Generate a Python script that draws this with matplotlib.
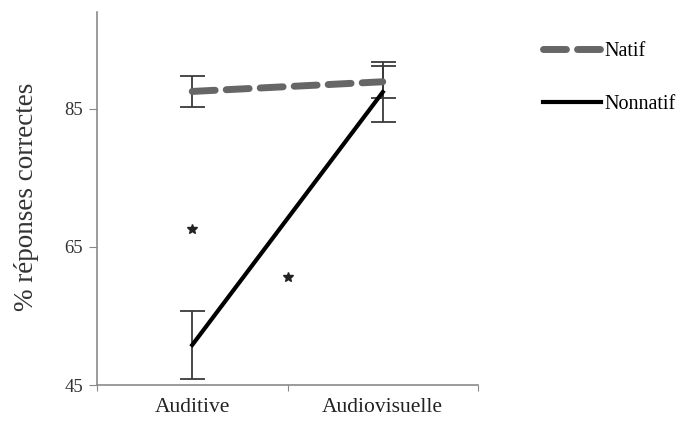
import matplotlib
matplotlib.use("Agg")
import matplotlib.pyplot as plt

categories = ["Auditive", "Audiovisuelle"]
natif = [87.5, 88.9]
natif_err = [2.2, 2.3]
nonnatif = [50.8, 87.4]
nonnatif_err = [4.9, 4.3]
star_x = [0, 0.5]
star_y = [67.6, 60.7]
yticks = [45, 65, 85]

plt.rcParams['font.family'] = ['Liberation Serif', 'DejaVu Serif']

fig = plt.figure(figsize=(6.85, 4.21), dpi=100)
ax = fig.add_axes([97/685, 1-385/421, (478-97)/685, (385-12)/421])

x = list(range(len(categories)))
ax.errorbar(x, natif, yerr=natif_err, fmt='none', ecolor='#3a3a3a', elinewidth=1.3,
            capsize=9, capthick=1.3, zorder=3)
ax.errorbar(x, nonnatif, yerr=nonnatif_err, fmt='none', ecolor='#3a3a3a', elinewidth=1.3,
            capsize=9, capthick=1.3, zorder=3)
ln1, = ax.plot(x, natif, color='#666666', lw=5, dashes=(3.3, 1.6),
               dash_capstyle='round', label='Natif', zorder=4)
ln2, = ax.plot(x, nonnatif, color='black', lw=3, label='Nonnatif', zorder=4)
ax.plot(star_x, star_y, linestyle='none', marker='*', color='#222222', markersize=7)

ax.set_xlim(-0.5, 1.5)
ax.set_ylim(45, 99)
ax.set_yticks(yticks)
ax.set_yticklabels([str(v) for v in yticks], fontsize=13.5, color='#333333')
ax.set_xticks([-0.5, 0.5, 1.5])
ax.set_xticklabels([])
ax.set_xticks(x, minor=True)
ax.set_xticklabels(categories, minor=True, fontsize=15.5, color='#222222')
ax.tick_params(axis='x', which='minor', length=0, pad=9)
ax.tick_params(axis='x', which='major', length=4, color='#888888', direction='out')
ax.tick_params(axis='y', length=6, color='#888888', direction='out', pad=4)
for s in ['top', 'right']:
    ax.spines[s].set_visible(False)
for s in ['left', 'bottom']:
    ax.spines[s].set_color('#8a8a8a')
    ax.spines[s].set_linewidth(1.2)

ax.set_ylabel('% réponses correctes', fontsize=19.5, color='#333333')
ax.yaxis.set_label_coords(-0.152, 0.505)

fig.legend(handles=[ln1, ln2], loc='upper left', bbox_to_anchor=(535/685, 1-34/421),
           frameon=False, fontsize=14.5, handlelength=2.9, handletextpad=0.15,
           labelspacing=1.7, borderaxespad=0)

fig.savefig('out.png', dpi=100)
